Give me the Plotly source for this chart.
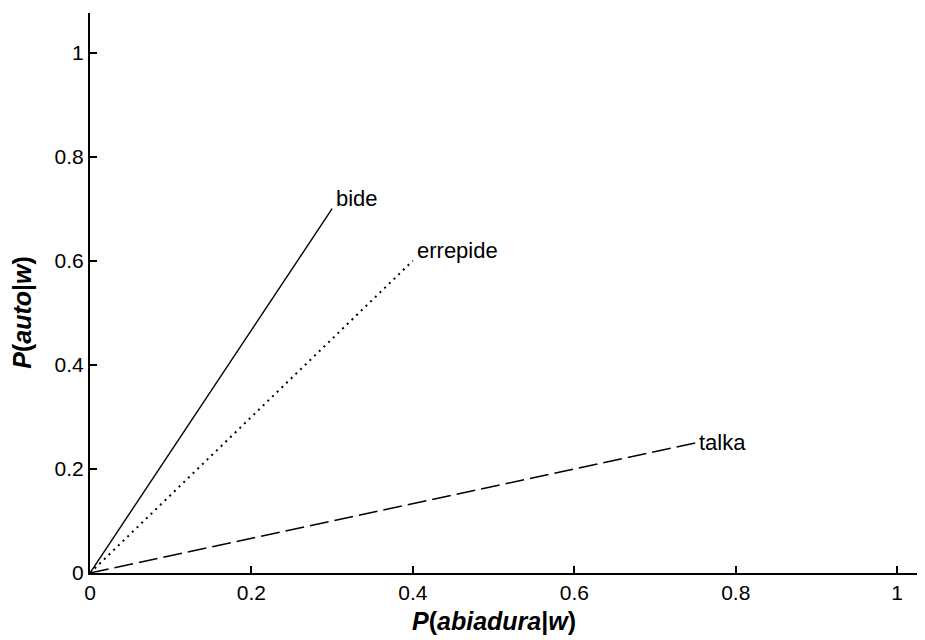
import plotly.graph_objects as go

words = ["bide", "errepide", "talka"]
p_abiadura = [0.30, 0.40, 0.75]
p_auto = [0.70, 0.60, 0.25]
label_y = [0.72, 0.62, 0.25]
dashes = ["solid", "2px,4.5px", "19px,6px"]
widths = [1.4, 2.0, 1.5]

x_ticks = [0, 0.2, 0.4, 0.6, 0.8, 1]
x_tick_text = ["0", "0.2", "0.4", "0.6", "0.8", "1"]
y_ticks = [0, 0.2, 0.4, 0.6, 0.8, 1]
y_tick_text = ["0", "0.2", "0.4", "0.6", "0.8", "1"]

FONT = "Liberation Sans, Arial, sans-serif"

fig = go.Figure()
for w, xv, yv, d, lw in zip(words, p_abiadura, p_auto, dashes, widths):
    fig.add_trace(go.Scatter(
        x=[0, xv], y=[0, yv], mode="lines",
        line=dict(color="black", width=lw, dash=d),
        showlegend=False, hoverinfo="skip",
    ))

for w, xv, ly in zip(words, p_abiadura, label_y):
    fig.add_annotation(
        x=xv, y=ly, text=w, showarrow=False,
        xanchor="left", yanchor="middle", xshift=2,
        font=dict(family=FONT, size=22, color="black"),
    )

# axis titles
fig.add_annotation(
    x=0.5, xref="x", y=0, yref="paper", yanchor="middle", xanchor="center",
    yshift=-48, showarrow=False,
    text="<b><i>P</i>(<i>abiadura</i>|<i>w</i>)</b>",
    font=dict(family=FONT, size=25, color="black"),
)
fig.add_annotation(
    x=0, xref="paper", y=0.5, yref="y", xanchor="center", yanchor="middle",
    xshift=-68, showarrow=False, textangle=-90,
    text="<b><i>P</i>(<i>auto</i>|<i>w</i>)</b>",
    font=dict(family=FONT, size=25, color="black"),
)

fig.update_layout(
    width=917, height=632,
    margin=dict(l=82, r=0, t=5, b=67),
    paper_bgcolor="white", plot_bgcolor="white",
    font=dict(family=FONT, size=21, color="black"),
    xaxis=dict(
        range=[0, 1.0345], tickvals=x_ticks, ticktext=x_tick_text,
        ticks="inside", ticklen=7, tickwidth=1.5, tickcolor="black",
        showline=True, linecolor="black", linewidth=2,
        showgrid=False, zeroline=False,
        tickfont=dict(family=FONT, size=21, color="black"),
    ),
    yaxis=dict(
        range=[0, 1.076], tickvals=y_ticks, ticktext=y_tick_text,
        ticks="inside", ticklen=7, tickwidth=1.5, tickcolor="black",
        showline=True, linecolor="black", linewidth=2,
        showgrid=False, zeroline=False,
        tickfont=dict(family=FONT, size=21, color="black"),
    ),
)

fig.write_html("out.html")
